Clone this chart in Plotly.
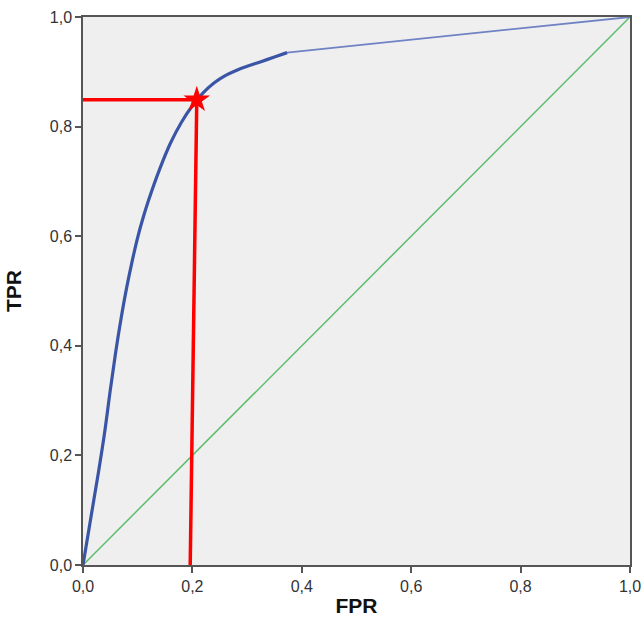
import plotly.graph_objects as go

# ROC curve (dense part)
roc_fpr = [0, 0.005, 0.012, 0.02, 0.03, 0.04, 0.05, 0.06, 0.07, 0.08, 0.09, 0.10, 0.11, 0.12,
           0.14, 0.16, 0.18, 0.20, 0.22, 0.24, 0.26, 0.28, 0.30, 0.324, 0.35, 0.373]
roc_tpr = [0, 0.030, 0.072, 0.120, 0.180, 0.245, 0.320, 0.390, 0.452, 0.507, 0.555, 0.598, 0.634, 0.666,
           0.722, 0.770, 0.808, 0.838, 0.862, 0.880, 0.893, 0.9025, 0.910, 0.918, 0.927, 0.935]
# final straight segment
tail_fpr = [0.373, 1.0]
tail_tpr = [0.935, 1.0]
# chance diagonal
diag_fpr = [0, 1]
diag_tpr = [0, 1]
# chosen operating point
star_fpr = [0.208]
star_tpr = [0.849]
# red guide lines
hline_fpr = [0.0, 0.208]
hline_tpr = [0.849, 0.849]
vline_fpr = [0.208, 0.196]
vline_tpr = [0.849, 0.0]

tick_vals = [0, 0.2, 0.4, 0.6, 0.8, 1.0]
tick_text = ["0,0", "0,2", "0,4", "0,6", "0,8", "1,0"]

fig = go.Figure()
fig.add_trace(go.Scatter(x=diag_fpr, y=diag_tpr, mode="lines",
                         line=dict(color="#5cbd6a", width=1.5), showlegend=False))
fig.add_trace(go.Scatter(x=tail_fpr, y=tail_tpr, mode="lines",
                         line=dict(color="#6f82c4", width=1.8), showlegend=False))
fig.add_trace(go.Scatter(x=roc_fpr, y=roc_tpr, mode="lines", line_shape="spline",
                         line=dict(color="#3a55a6", width=3.2, smoothing=1.0), showlegend=False))
fig.add_trace(go.Scatter(x=hline_fpr, y=hline_tpr, mode="lines",
                         line=dict(color="#ff0000", width=3.5), showlegend=False))
fig.add_trace(go.Scatter(x=vline_fpr, y=vline_tpr, mode="lines",
                         line=dict(color="#ff0000", width=3.5), showlegend=False))
fig.add_trace(go.Scatter(x=star_fpr, y=star_tpr, mode="markers",
                         marker=dict(symbol="star", size=20, color="#ff0000", line=dict(width=0)),
                         showlegend=False))

axis_common = dict(
    range=[0, 1], tickvals=tick_vals, ticktext=tick_text, automargin=False,
    showgrid=False, zeroline=False, showline=True, mirror=True,
    linecolor="#555555", linewidth=1.5, ticks="outside", ticklen=6,
    tickcolor="#555555", tickwidth=1.5, ticklabeloverflow="allow",
    tickfont=dict(family="Liberation Sans, Arial", size=16, color="#333333"),
)

fig.update_layout(
    width=642, height=618,
    margin=dict(l=83, r=12, t=17, b=53),
    paper_bgcolor="white", plot_bgcolor="#efefef",
    xaxis=dict(**axis_common, title=dict(text="<b>FPR</b>", standoff=4,
               font=dict(family="Liberation Sans, Arial", size=21, color="#111111"))),
    yaxis=dict(**axis_common, title=dict(text="<b>TPR</b>", standoff=22,
               font=dict(family="Liberation Sans, Arial", size=21, color="#111111"))),
)

# remove the default page margin so the 642x618 figure fills the window exactly
fig.write_html("out.html", config={"displayModeBar": False},
               post_script="document.body.style.margin='0';document.body.style.overflow='hidden';")
